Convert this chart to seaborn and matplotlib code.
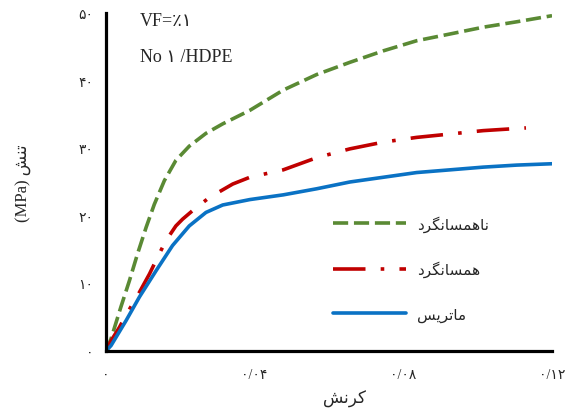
import numpy as np
import pandas as pd
import matplotlib
matplotlib.use("Agg")
import matplotlib.pyplot as plt
import seaborn as sns

# 数据
strain_aniso = [0, 0.00135, 0.004, 0.0063, 0.0085, 0.0108, 0.013, 0.0157, 0.0188,
                0.0224, 0.0269, 0.0314, 0.0387, 0.0477, 0.0567, 0.0656, 0.0746,
                0.0836, 0.0926, 0.1015, 0.1105, 0.12]
stress_aniso = [0, 1.8, 6.5, 10.4, 14.4, 18.3, 21.7, 25.2, 28.2,
                30.3, 32.2, 33.6, 35.6, 38.6, 40.9, 42.7, 44.4,
                45.9, 46.9, 47.9, 48.7, 49.6]

strain_iso = [0, 0.00135, 0.0036, 0.0058, 0.0085, 0.0117, 0.0139, 0.0161, 0.0188,
              0.0206, 0.0238, 0.0278, 0.0341, 0.0387, 0.0477, 0.0567, 0.0656,
              0.0746, 0.0836, 0.0926, 0.1015, 0.113]
stress_iso = [0, 1.5, 3.5, 5.7, 8.2, 11.4, 13.9, 16.3, 18.5,
              19.5, 21.0, 22.7, 24.7, 25.7, 26.8, 28.6, 29.9,
              30.9, 31.6, 32.1, 32.6, 33.0]

strain_matrix = [0, 0.00135, 0.0054, 0.009, 0.0135, 0.0179, 0.0224, 0.0269, 0.0314,
                 0.0387, 0.0477, 0.0567, 0.0656, 0.0746, 0.0836, 0.0926, 0.1015,
                 0.1105, 0.12]
stress_matrix = [0, 0.8, 4.5, 8.0, 11.9, 15.6, 18.5, 20.5, 21.6,
                 22.4, 23.1, 24.0, 25.0, 25.7, 26.4, 26.8, 27.2,
                 27.5, 27.7]

series_names = ['ناهمسانگرد', 'همسانگرد', 'ماتریس']
x_ticks = [0, 0.04, 0.08, 0.12]
x_tick_labels = ['۰', '۰/۰۴', '۰/۰۸', '۰/۱۲']
y_ticks = [0, 10, 20, 30, 40, 50]
y_tick_labels = ['۰', '۱۰', '۲۰', '۳۰', '۴۰', '۵۰']

# 简单的波斯文字形整形（matplotlib 不做连写）
FORMS = {
    'ا': ('\uFE8D', '\uFE8E', None, None),
    'د': ('\uFEA9', '\uFEAA', None, None),
    'ر': ('\uFEAD', '\uFEAE', None, None),
    'ه': ('\uFEE9', '\uFEEA', '\uFEEB', '\uFEEC'),
    'م': ('\uFEE1', '\uFEE2', '\uFEE3', '\uFEE4'),
    'س': ('\uFEB1', '\uFEB2', '\uFEB3', '\uFEB4'),
    'ن': ('\uFEE5', '\uFEE6', '\uFEE7', '\uFEE8'),
    'گ': ('\uFB92', '\uFB93', '\uFB94', '\uFB95'),
    'ت': ('\uFE95', '\uFE96', '\uFE97', '\uFE98'),
    'ی': ('\uFBFC', '\uFBFD', '\uFBFE', '\uFBFF'),
    'ش': ('\uFEB5', '\uFEB6', '\uFEB7', '\uFEB8'),
    'ک': ('\uFB8E', '\uFB8F', '\uFB90', '\uFB91'),
}


def shape(word):
    out = []
    for i, ch in enumerate(word):
        if ch not in FORMS:
            out.append(ch)
            continue
        prev = word[i - 1] if i > 0 else None
        nxt = word[i + 1] if i < len(word) - 1 else None
        iso, fin, ini, med = FORMS[ch]
        j_prev = prev in FORMS and FORMS[prev][2] is not None
        j_next = nxt in FORMS and ini is not None
        if j_prev and j_next:
            out.append(med)
        elif j_prev:
            out.append(fin)
        elif j_next:
            out.append(ini)
        else:
            out.append(iso)
    return ''.join(reversed(out))


df = pd.concat([
    pd.DataFrame({'strain': strain_aniso, 'stress': stress_aniso, 'mat': series_names[0]}),
    pd.DataFrame({'strain': strain_iso, 'stress': stress_iso, 'mat': series_names[1]}),
    pd.DataFrame({'strain': strain_matrix, 'stress': stress_matrix, 'mat': series_names[2]}),
], ignore_index=True)

sns.set_style('white')
plt.rcParams['font.family'] = ['Liberation Serif', 'DejaVu Sans']

fig = plt.figure(figsize=(5.67, 4.14), dpi=100)
ax = fig.add_axes([106 / 567, 1 - 352 / 414, 446 / 567, 338 / 414])

palette = {series_names[0]: '#5A8A34', series_names[1]: '#C00000', series_names[2]: '#0A72C4'}
dashes = {series_names[0]: (4.2, 1.6), series_names[1]: (9, 4.2, 1, 4.2), series_names[2]: ''}
sns.lineplot(data=df, x='strain', y='stress', hue='mat', style='mat',
             hue_order=series_names, style_order=series_names,
             palette=palette, dashes=dashes, linewidth=2.6, sort=False,
             estimator=None, ax=ax)
for line in ax.lines:
    line.set_solid_joinstyle('round')
    line.set_dash_joinstyle('round')

ax.set_xlim(0, 0.12)
ax.set_ylim(0, 50)
ax.set_xticks(x_ticks)
ax.set_xticklabels(x_tick_labels)
ax.set_yticks(y_ticks)
ax.set_yticklabels(y_tick_labels)
ax.tick_params(length=0, labelsize=10)
ax.tick_params(axis='x', pad=12)
ax.tick_params(axis='y', pad=9)

for side in ['top', 'right']:
    ax.spines[side].set_visible(False)
for side in ['left', 'bottom']:
    ax.spines[side].set_color('black')
    ax.spines[side].set_linewidth(2.3)

ax.set_xlabel(shape('کرنش'), fontsize=12, family=['DejaVu Sans'])
ax.xaxis.set_label_coords(0.535, -0.112)
ax.set_ylabel('(MPa) ' + shape('تنش'), fontsize=12)
ax.yaxis.set_label_coords(-0.165, 0.5)

ax.text(140 / 567, 1 - 22 / 414, 'VF=٪۱', transform=fig.transFigure,
        fontsize=13, va='center', ha='left')
ax.text(140 / 567, 1 - 58 / 414, 'No ۱ /HDPE', transform=fig.transFigure,
        fontsize=13, va='center', ha='left')

handles, labels = ax.get_legend_handles_labels()
ax.legend(handles, [shape(l) for l in labels], frameon=False, loc='upper left',
          bbox_to_anchor=(333 / 567, 1 - 216 / 414), bbox_transform=fig.transFigure,
          borderpad=0, borderaxespad=0, handlelength=4.8, handletextpad=0.7,
          labelspacing=1.9, prop={'family': 'DejaVu Sans', 'size': 11})

fig.savefig('out.png', dpi=100)
